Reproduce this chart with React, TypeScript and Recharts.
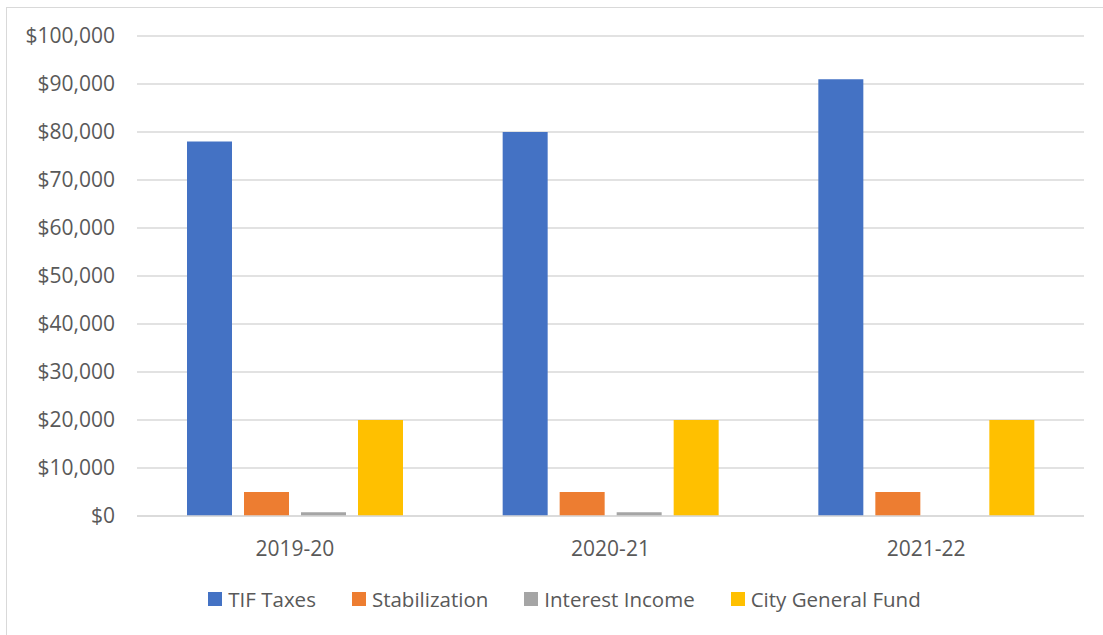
import React from 'react';
import { BarChart, Bar, XAxis, YAxis, CartesianGrid, Legend } from 'recharts';

// ─── Data ────────────────────────────────────────────────────────────────────

const years = ['2019-20', '2020-21', '2021-22'];
const tifTaxes = [78000, 80000, 91000];
const stabilization = [5000, 5000, 5000];
const interestIncome = [800, 800, 0];
const cityGeneralFund = [20000, 20000, 20000];
const yTicks = [0, 10000, 20000, 30000, 40000, 50000, 60000, 70000, 80000, 90000, 100000];

const series = [
  { key: 'tif', name: 'TIF Taxes', color: '#4472C4' },
  { key: 'stab', name: 'Stabilization', color: '#ED7D31' },
  { key: 'interest', name: 'Interest Income', color: '#A5A5A5' },
  { key: 'city', name: 'City General Fund', color: '#FFC000' },
];

const data = years.map((y, i) => ({
  year: y,
  tif: tifTaxes[i],
  stab: stabilization[i],
  interest: interestIncome[i],
  city: cityGeneralFund[i],
}));

const FONT = '"Open Sans", "Noto Sans", sans-serif';
const TEXT = '#595959';

const fmtMoney = (v: number) => `$${v.toLocaleString('en-US')}`;

// ─── Legend ──────────────────────────────────────────────────────────────────

function ChartLegend() {
  return (
    <div style={{ display: 'flex', justifyContent: 'center', gap: 36, fontFamily: FONT, fontSize: 20.5, color: TEXT, lineHeight: '26px', paddingLeft: 26 }}>
      {series.map(s => (
        <div key={s.key} style={{ display: 'flex', alignItems: 'center' }}>
          <span style={{ width: 14, height: 14, background: s.color, marginRight: 6, display: 'inline-block' }} />
          <span>{s.name}</span>
        </div>
      ))}
    </div>
  );
}

// ─── App ─────────────────────────────────────────────────────────────────────

export default function App() {
  return (
    <div style={{ position: 'absolute', left: 0, top: 0, width: 1103, height: 635, overflow: 'hidden', background: '#fff' }}>
      <div style={{ position: 'absolute', left: 6, top: 7, width: 1110, height: 650, border: '1px solid #d9d9d9' }} />
      <div style={{ position: 'absolute', left: 0, top: 0 }}>
        <BarChart
          width={1103}
          height={635}
          data={data}
          margin={{ top: 36, right: 19, bottom: 0, left: 0 }}
          barSize={45}
          barGap={12}
        >
          <CartesianGrid vertical={false} stroke="#d9d9d9" strokeWidth={1.5} />
          <XAxis
            dataKey="year"
            height={93}
            tickLine={false}
            axisLine={{ stroke: '#d9d9d9', strokeWidth: 1.5 }}
            tick={{ fill: TEXT, fontSize: 21, fontFamily: FONT }}
            tickMargin={19}
          />
          <YAxis
            width={137}
            domain={[0, 100000]}
            ticks={yTicks}
            tickFormatter={fmtMoney}
            axisLine={false}
            tickLine={false}
            tickSize={0}
            tickMargin={22}
            tick={{ fill: TEXT, fontSize: 21, fontFamily: FONT }}
          />
          <Legend
            content={<ChartLegend />}
            wrapperStyle={{ top: 586, left: 0, width: 1103, height: 26 }}
          />
          {series.map(s => (
            <Bar key={s.key} dataKey={s.key} name={s.name} fill={s.color} isAnimationActive={false} />
          ))}
        </BarChart>
      </div>
    </div>
  );
}
